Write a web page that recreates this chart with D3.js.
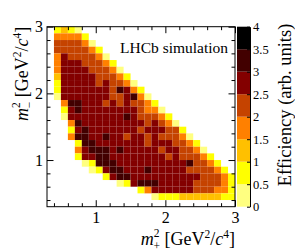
<!DOCTYPE html>
<html>
<head>
<meta charset="utf-8">
<script src="https://cdn.jsdelivr.net/npm/d3@7"></script>
<style>
  body { margin: 0; background: #fff; }
  svg { display: block; }
  text { font-family: "Liberation Serif", "DejaVu Serif", serif; fill: #000; }
</style>
</head>
<body>
<div id="chart"></div>
<script>
// bin edges for m2+ and m2- (GeV^2/c^4)
const binEdges = [0.3, 0.4, 0.5, 0.6, 0.7, 0.8, 0.9, 1.0, 1.1, 1.2, 1.3, 1.4, 1.5, 1.6, 1.7,
  1.8, 1.9, 2.0, 2.1, 2.2, 2.3, 2.4, 2.5, 2.6, 2.7, 2.8, 2.9, 3.0];

// efficiency band per cell, one string per m2- bin, top (2.9-3.0) to bottom (0.3-0.4)
// 0 = empty, 1 = 0-0.5, 2 = 0.5-1, ... 8 = 3.5-4
const effRows = [
  "023210000000000000000000000",
  "044442000000000000000000000",
  "055554100000000000000000000",
  "055555420000000000000000000",
  "046555541000000000000000000",
  "046665554200000000000000000",
  "046666555410000000000000000",
  "036666655542000000000000000",
  "026666656554100000000000000",
  "026666666576420000000000000",
  "016666666556741000000000000",
  "004776665656554200000000000",
  "002676666666654410000000000",
  "001666666667655542000000000",
  "000476666666665654100000000",
  "000267666666656665520000000",
  "000477667665665655541000000",
  "000027766666665666554200000",
  "000046777676666656655410000",
  "000026677666666665655542000",
  "000001277766666666667554200",
  "000000126776667666665555420",
  "000000002677666666666655542",
  "000000000012677766666555542",
  "000000000000024666666555442",
  "000000000000000122233333322",
  "000000000000000000000000000"
];

// efficiency value at the middle of each band
const bandMid = [null, 0.25, 0.75, 1.25, 1.75, 2.25, 2.75, 3.25, 3.75];

// colour palette
const effThresholds = [0.5, 1, 1.5, 2, 2.5, 3, 3.5];
const effColors = ["#ffff80", "#ffff00", "#ffc000", "#ff8000", "#c54300", "#830000", "#420000", "#000000"];

const xMajor = [1, 2, 3];
const xMinor = [0.4, 0.6, 0.8, 1.2, 1.4, 1.6, 1.8, 2.2, 2.4, 2.6, 2.8];
const yMajor = [1, 2, 3];
const yMinor = [0.4, 0.6, 0.8, 1.2, 1.4, 1.6, 1.8, 2.2, 2.4, 2.6, 2.8];
const zTicks = [0, 0.5, 1, 1.5, 2, 2.5, 3, 3.5, 4];

const width = 295, height = 252;
const plotL = 47, plotR = 235, plotT = 26.7, plotB = 206.7;
const barL = 237, barR = 250;

const svg = d3.select("#chart").append("svg")
  .attr("width", width)
  .attr("height", height);

const x = d3.scaleLinear().domain([0.3, 3]).range([plotL, plotR]);
const y = d3.scaleLinear().domain([0.3, 3]).range([plotB, plotT]);
const z = d3.scaleLinear().domain([0, 4]).range([plotB, plotT]);
const color = d3.scaleThreshold().domain(effThresholds).range(effColors);

// build cells
const cells = [];
const nBins = binEdges.length - 1;
effRows.forEach((row, r) => {
  const j = nBins - 1 - r; // m2- bin index
  row.split("").forEach((ch, i) => {
    const lvl = +ch;
    if (lvl > 0) {
      cells.push({
        x0: binEdges[i], x1: binEdges[i + 1],
        y0: binEdges[j], y1: binEdges[j + 1],
        eff: bandMid[lvl]
      });
    }
  });
});

svg.append("g")
  .selectAll("rect")
  .data(cells)
  .join("rect")
  .attr("x", d => x(d.x0))
  .attr("y", d => y(d.y1))
  .attr("width", d => x(d.x1) - x(d.x0))
  .attr("height", d => y(d.y0) - y(d.y1))
  .attr("fill", d => color(d.eff));

// axes: ticks inward on all four sides
function tickAxis(axisFn, scale, values, size, labels, transform) {
  const a = axisFn(scale).tickValues(values).tickSize(-size).tickSizeOuter(0);
  a.tickFormat(labels ? d3.format("d") : "");
  const g = svg.append("g").attr("transform", transform).call(a);
  g.attr("font-family", null);
  g.select(".domain").remove();
  g.selectAll("line").attr("stroke", "#000").attr("stroke-width", 1);
  g.selectAll("text").style("font-size", "16px").style("font-family", "Liberation Serif");
  return g;
}

tickAxis(d3.axisBottom, x, xMajor, 6.5, true, `translate(0,${plotB})`).call(g => g.selectAll("text").attr("y", 5));
tickAxis(d3.axisBottom, x, xMinor, 3.5, false, `translate(0,${plotB})`);
tickAxis(d3.axisTop, x, xMajor, 6.5, false, `translate(0,${plotT})`);
tickAxis(d3.axisTop, x, xMinor, 3.5, false, `translate(0,${plotT})`);
tickAxis(d3.axisLeft, y, yMajor, 6.5, true, `translate(${plotL},0)`).call(g => g.selectAll("text").attr("x", -4));
tickAxis(d3.axisLeft, y, yMinor, 3.5, false, `translate(${plotL},0)`);
tickAxis(d3.axisRight, y, yMajor, 6.5, false, `translate(${plotR},0)`);
tickAxis(d3.axisRight, y, yMinor, 3.5, false, `translate(${plotR},0)`);

// frame
svg.append("rect")
  .attr("x", plotL).attr("y", plotT)
  .attr("width", plotR - plotL).attr("height", plotB - plotT)
  .attr("fill", "none").attr("stroke", "#000").attr("stroke-width", 1);

// colour bar
const bands = effColors.map((c, k) => ({
  lo: k === 0 ? 0 : effThresholds[k - 1],
  hi: k === effColors.length - 1 ? 4 : effThresholds[k],
  c: c
}));
svg.append("g")
  .selectAll("rect")
  .data(bands)
  .join("rect")
  .attr("x", barL)
  .attr("y", d => z(d.hi))
  .attr("width", barR - barL)
  .attr("height", d => z(d.lo) - z(d.hi))
  .attr("fill", d => d.c);

const zAxis = svg.append("g")
  .attr("transform", `translate(${barR},0)`)
  .call(d3.axisRight(z).tickValues(zTicks).tickFormat(d3.format("~g"))
    .tickSize(-3).tickSizeOuter(0).tickPadding(3));
zAxis.attr("font-family", null);
zAxis.select(".domain").attr("stroke", "#000");
zAxis.selectAll("text").style("font-size", "12.5px").style("font-family", "Liberation Serif");

// LHCb label
svg.append("text")
  .attr("x", 120).attr("y", 53)
  .style("font-size", "15.5px")
  .text("LHCb simulation");

// axis title with stacked super/subscript on m
function massTitle(sel, sign) {
  sel.append("tspan").style("font-style", "italic").text("m");
  sel.append("tspan").attr("dy", -8.5).style("font-size", "11.5px").text("2");
  sel.append("tspan").attr("dx", -6).attr("dy", 13.5).style("font-size", "11.5px").text(sign);
  sel.append("tspan").attr("dy", -5).text(" [GeV");
  sel.append("tspan").attr("dy", -7).style("font-size", "11.5px").text("2");
  sel.append("tspan").attr("dy", 7).text("/");
  sel.append("tspan").style("font-style", "italic").text("c");
  sel.append("tspan").attr("dy", -7).style("font-size", "11.5px").text("4");
  sel.append("tspan").attr("dy", 7).text("]");
}

const xt = svg.append("text")
  .attr("x", plotR).attr("y", 245)
  .attr("text-anchor", "end")
  .style("font-size", "18px");
massTitle(xt, "+");

const yt = svg.append("text")
  .attr("transform", `translate(28,${plotT}) rotate(-90)`)
  .attr("text-anchor", "end")
  .style("font-size", "18px");
massTitle(yt, "\u2212");

// colour bar title
svg.append("text")
  .attr("transform", `translate(291,${plotT - 3}) rotate(-90)`)
  .attr("text-anchor", "end")
  .style("font-size", "18.5px")
  .text("Efficiency (arb. units)");
</script>
</body>
</html>
